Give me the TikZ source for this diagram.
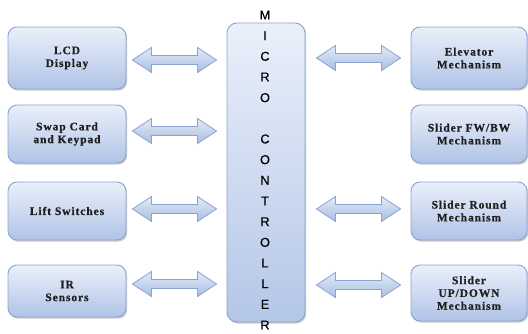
\documentclass[tikz,border=0pt]{standalone}
\usepackage{fontspec}
\setmainfont{Liberation Serif}
\newfontfamily\boxfont[LetterSpace=8, BoldFeatures={FakeBold=0.6}]{Liberation Serif}
\newfontfamily\letterfont[FakeBold=0.4]{Liberation Sans}
\usetikzlibrary{calc,shadows}
\definecolor{boxtop}{HTML}{EAF0FA}
\definecolor{boxbot}{HTML}{B0C3E6}
\definecolor{boxline}{HTML}{8AA4D2}
\definecolor{arrtop}{HTML}{E2EAF7}
\definecolor{arrbot}{HTML}{A9BEE2}
\tikzset{
  blk/.style={rectangle, rounded corners=9pt, draw=boxline, line width=0.9pt,
    top color=boxtop, bottom color=boxbot, minimum width=118pt,
    align=center, font=\boxfont\bfseries\fontsize{11.5}{12.8}\selectfont, text=black!88,
    drop shadow={shadow xshift=1.2pt, shadow yshift=-1.6pt, opacity=0.35, fill=black!60}},
  mcblk/.style={rectangle, rounded corners=10pt, draw=boxline, line width=0.9pt,
    top color=boxtop, bottom color=boxbot!95, minimum width=78pt, minimum height=299pt,
    drop shadow={shadow xshift=1.2pt, shadow yshift=-1.6pt, opacity=0.35, fill=black!60}},
  letters/.style={align=center, font=\letterfont\fontsize{12.8}{20.67}\selectfont, inner sep=0pt},
  arr/.style={draw=boxline, line width=0.8pt, top color=arrtop, bottom color=arrbot, line join=miter}
}
\newcommand\dblarrow[2]{%
  \path[arr] let \p1=(#1), \p2=(#2) in
    (\x1,\y1) -- (\x1+19pt,\y1+12.5pt) -- (\x1+19pt,\y1+4.5pt) -- (\x2-19pt,\y1+4.5pt)
    -- (\x2-19pt,\y1+12.5pt) -- (\x2,\y1) -- (\x2-19pt,\y1-12.5pt) -- (\x2-19pt,\y1-4.5pt)
    -- (\x1+19pt,\y1-4.5pt) -- (\x1+19pt,\y1-12.5pt) -- cycle;}
\begin{document}
\begin{tikzpicture}[x=1pt,y=-1pt]
\useasboundingbox (0,0) rectangle (528,334);
% left column
\node[blk, minimum height=62pt] (lcd) at (67,58) {LCD\\Display};
\node[blk, minimum height=58pt] (swap) at (67,134) {Swap Card\\and Keypad};
\node[blk, minimum height=58pt] (lift) at (67,211) {Lift Switches};
\node[blk, minimum height=52pt] (ir) at (67,291) {IR\\Sensors};
% right column
\node[blk, minimum height=62pt, minimum width=116pt] (elev) at (469,58) {Elevator\\Mechanism};
\node[blk, minimum height=58pt, minimum width=116pt] (fwbw) at (469,134) {Slider FW/BW\\Mechanism};
\node[blk, minimum height=58pt, minimum width=116pt] (round) at (469,211) {Slider Round\\Mechanism};
\node[blk, minimum height=56pt, minimum width=116pt] (updown) at (469,293) {Slider\\UP/DOWN\\Mechanism};
% microcontroller
\node[mcblk] (mc) at (266,172.5) {};
\node[letters] (mctext) at (265,170) {M\\I\\C\\R\\O\\\mbox{}\\C\\O\\N\\T\\R\\O\\L\\L\\E\\R};
% arrow end points
\coordinate (l1s) at ($(lcd.east)+(6,2)$);   \coordinate (l1e) at ($(mc.west |- l1s)+(-10,0)$);
\coordinate (l2s) at ($(swap.east)+(6,-3)$); \coordinate (l2e) at ($(mc.west |- l2s)+(-10,0)$);
\coordinate (l3s) at ($(lift.east)+(6,-2)$); \coordinate (l3e) at ($(mc.west |- l3s)+(-10,0)$);
\coordinate (l4s) at ($(ir.east)+(6,-7)$);   \coordinate (l4e) at ($(mc.west |- l4s)+(-10,0)$);
\coordinate (r1e) at ($(elev.west)+(-10,0)$);  \coordinate (r1s) at ($(mc.east |- r1e)+(11,0)$);
\coordinate (r3e) at ($(round.west)+(-10,-2)$); \coordinate (r3s) at ($(mc.east |- r3e)+(11,0)$);
\coordinate (r4e) at ($(updown.west)+(-10,-8)$); \coordinate (r4s) at ($(mc.east |- r4e)+(11,0)$);
\dblarrow{l1s}{l1e}
\dblarrow{l2s}{l2e}
\dblarrow{l3s}{l3e}
\dblarrow{l4s}{l4e}
\dblarrow{r1s}{r1e}
\dblarrow{r3s}{r3e}
\dblarrow{r4s}{r4e}
\end{tikzpicture}
\end{document}
